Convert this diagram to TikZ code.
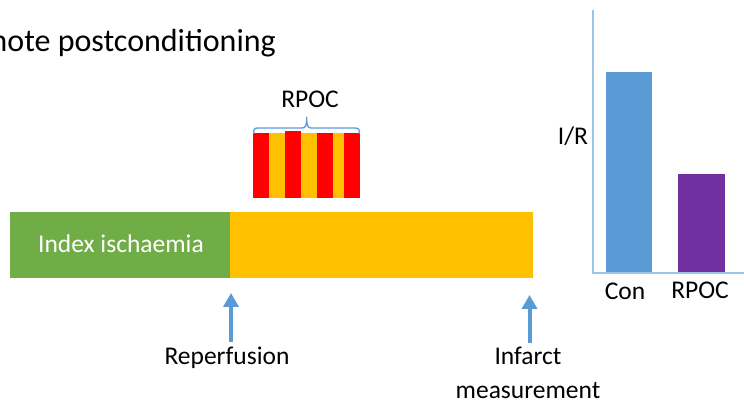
\documentclass[tikz,border=0pt]{standalone}
\usepackage{fontspec}
\setmainfont{Carlito}
\usetikzlibrary{arrows.meta}
\definecolor{cgreen}{HTML}{70AD47}
\definecolor{corange}{HTML}{FFC000}
\definecolor{cred}{HTML}{FF0000}
\definecolor{cblue}{HTML}{5B9BD5}
\definecolor{cpurple}{HTML}{7030A0}
\definecolor{caxis}{HTML}{9DC3E6}
\tikzset{
  lbl/.style={inner sep=0pt, font=\fontsize{25.5}{33}\selectfont, align=center},
  ttl/.style={inner sep=0pt, font=\fontsize{32}{36}\selectfont},
  evarrow/.style={draw=cblue, line width=4pt, -{Triangle[width=15pt,length=14pt]}},
  bracepath/.style={draw=cblue, line width=1.3pt},
  axisline/.style={draw=caxis, line width=1.5pt},
}
\begin{document}
\begin{tikzpicture}[x=1pt,y=-1pt]
\useasboundingbox (0,0) rectangle (744,411);
\begin{scope}
\clip (0,0) rectangle (744,411);
\node[ttl, anchor=base east] (title) at (276,52) {Remote postconditioning};
\end{scope}
% timeline
\fill[cgreen] (10,212) rectangle (230,278);
\fill[corange] (230,212) rectangle (533,278);
\node[lbl, text=white, anchor=base] (index) at (121,253) {Index ischaemia};
% RPOC stripes
\fill[cred] (253,133) rectangle (269,198);
\fill[corange] (269,133) rectangle (285,198);
\fill[cred] (285,131.5) rectangle (301,198);
\fill[corange] (301,133) rectangle (317,198);
\fill[cred] (317,133) rectangle (333,198);
\fill[corange] (333,133) rectangle (344,198);
\fill[cred] (344,133) rectangle (360,198);
\draw[bracepath] (253.5,134) .. controls (253.5,129) and (254.5,128) .. (258,128) -- (302,128)
  .. controls (305.5,128) and (306.7,126) .. (306.7,117)
  .. controls (306.7,126) and (308,128) .. (311,128) -- (355,128)
  .. controls (358.5,128) and (359.5,129) .. (359.5,134);
\node[lbl, anchor=base] (rpoclbl) at (310,108) {RPOC};
% arrows
\coordinate (rb) at (231,342);
\coordinate (rt) at (231,293);
\coordinate (ib) at (529.5,343);
\coordinate (it) at (529.5,295);
\draw[evarrow] (rb) -- (rt);
\draw[evarrow] (ib) -- (it);
\node[lbl, anchor=base] (reperf) at (227,365) {Reperfusion};
\node[lbl, anchor=base] (infarct) at (528,365) {Infarct};
\node[lbl, anchor=base] (meas) at (528,398) {measurement};
% chart
\fill[cblue] (606,72) rectangle (652,273);
\fill[cpurple] (678,174) rectangle (725,273);
\coordinate (ytop) at (593,10);
\coordinate (orig) at (593,273);
\coordinate (xend) at (744,273);
\draw[axisline] (ytop) -- (orig) -- (xend);
\node[lbl, anchor=base] (con) at (625,300) {Con};
\node[lbl, anchor=base] (rpocbar) at (700,299) {RPOC};
\node[lbl, anchor=base] (ir) at (573,145) {I/R};
\end{tikzpicture}
\end{document}
